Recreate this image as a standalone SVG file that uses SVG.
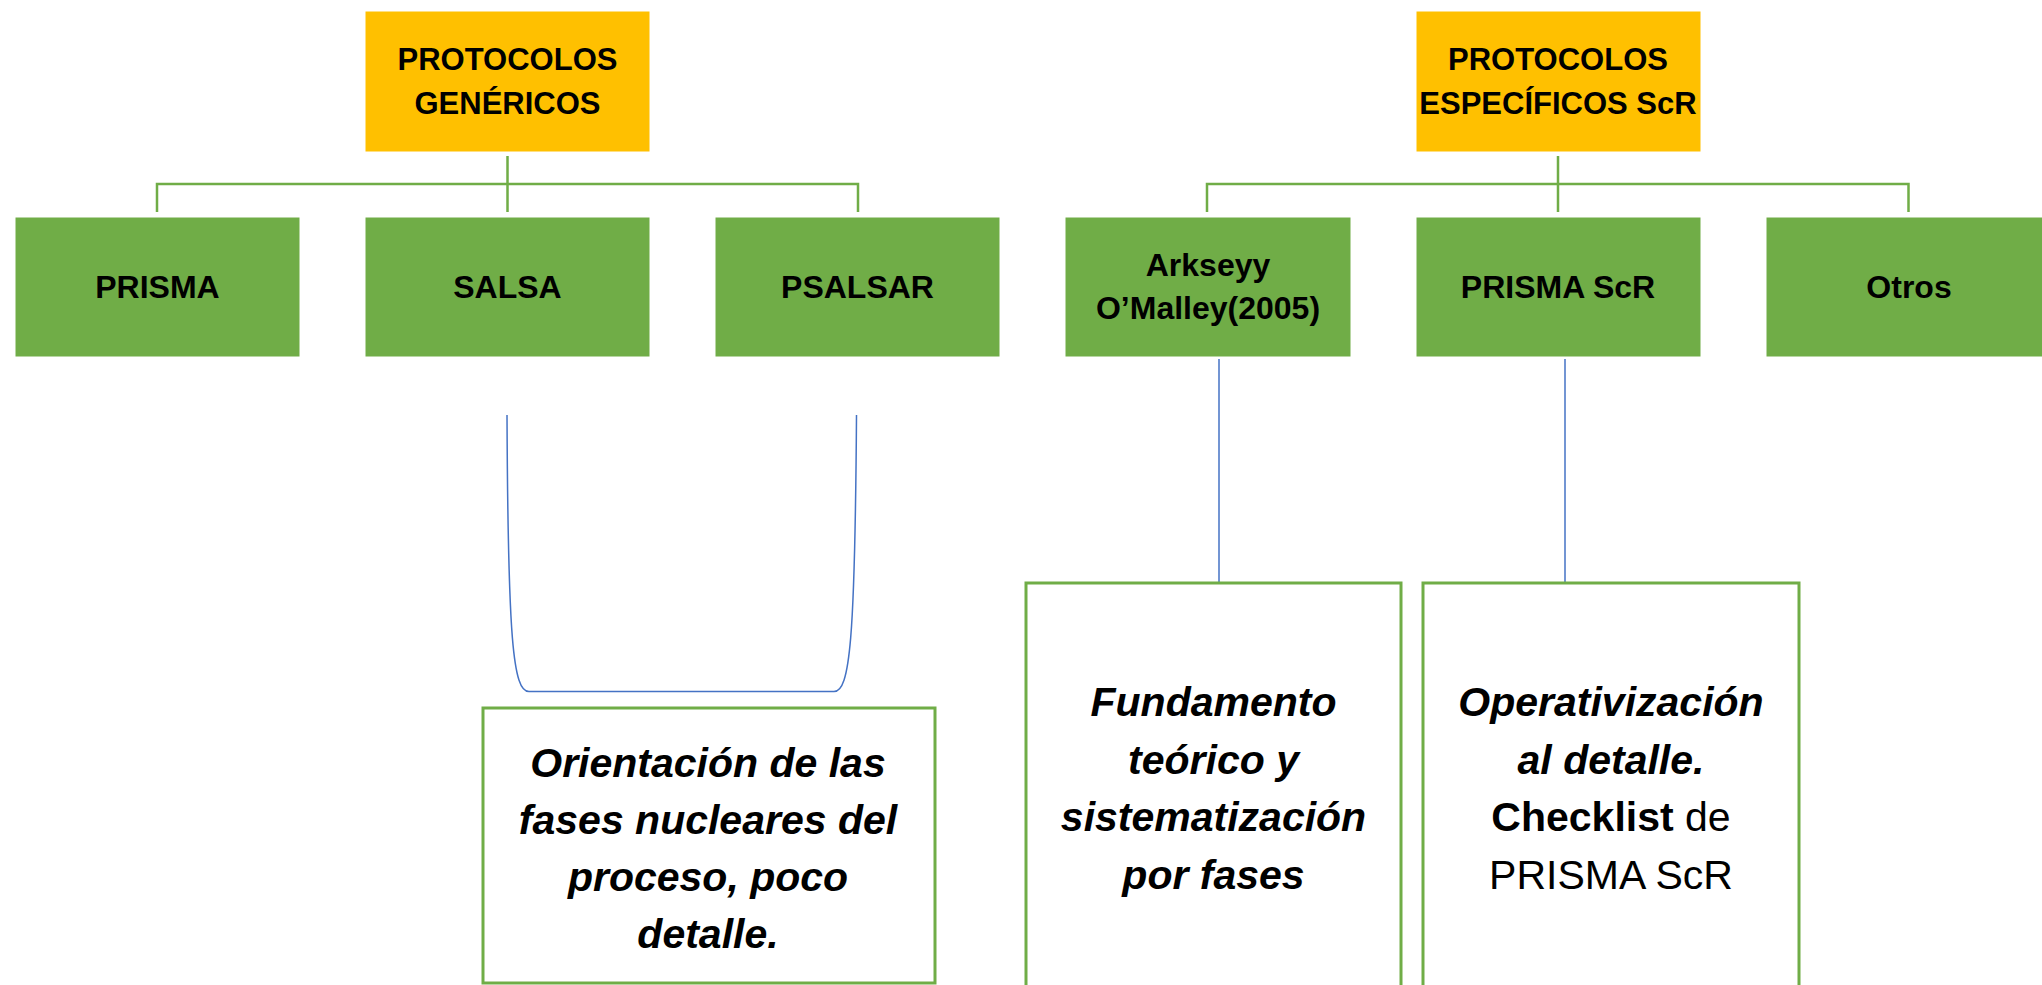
<svg xmlns="http://www.w3.org/2000/svg" width="2042" height="985" viewBox="0 0 2042 985">
<style>
.bg{fill:#FFFFFF}
.head{fill:#FFC000;stroke:#FFFFFF;stroke-width:1}
.leaf{fill:#70AD47;stroke:#FFFFFF;stroke-width:1}
.note{fill:#FFFFFF;stroke:#70AD47;stroke-width:3}
.tree{fill:none;stroke:#70AD47;stroke-width:2.5}
.link{fill:none;stroke:#4472C4;stroke-width:1.5}
.t{font-family:"Liberation Sans",Arial,sans-serif;font-weight:bold;font-size:32px;fill:#000000;text-anchor:middle}
.h{font-family:"Liberation Sans",Arial,sans-serif;font-weight:bold;font-size:31px;fill:#000000;text-anchor:middle}
.n{font-family:"Liberation Sans",Arial,sans-serif;font-weight:bold;font-style:italic;font-size:41px;fill:#000000;text-anchor:middle}
.r{font-family:"Liberation Sans",Arial,sans-serif;font-size:41px;fill:#000000;text-anchor:middle}
</style>
<rect class="bg" x="0" y="0" width="2042" height="985"/>
<g id="connectors">
<path class="tree" d="M507.5,156 V212 M157,212 V184 H858 V212"/>
<path class="tree" d="M1558,156 V212 M1207,212 V184 H1908.5 V212"/>
<path class="link" d="M507,415 C508,640 513,691.5 529,691.5 L834,691.5 C850,691.5 855,640 856.5,415"/>
<path class="link" d="M1219,359 V582"/>
<path class="link" d="M1565,359 V582"/>
</g>
<g id="node-genericos">
<rect class="head" x="365" y="11" width="285" height="141"/>
<text class="h" x="507.5" y="70">PROTOCOLOS</text>
<text class="h" x="507.5" y="114">GENÉRICOS</text>
</g>
<g id="node-especificos">
<rect class="head" x="1416" y="11" width="285" height="141"/>
<text class="h" x="1558" y="70">PROTOCOLOS</text>
<text class="h" x="1558" y="114">ESPECÍFICOS ScR</text>
</g>
<g id="node-prisma">
<rect class="leaf" x="15" y="217" width="285" height="140"/>
<text class="t" x="157.5" y="298">PRISMA</text>
</g>
<g id="node-salsa">
<rect class="leaf" x="365" y="217" width="285" height="140"/>
<text class="t" x="507.5" y="298">SALSA</text>
</g>
<g id="node-psalsar">
<rect class="leaf" x="715" y="217" width="285" height="140"/>
<text class="t" x="857.5" y="298">PSALSAR</text>
</g>
<g id="node-arksey">
<rect class="leaf" x="1065" y="217" width="286" height="140"/>
<text class="t" x="1208" y="276">Arkseyy</text>
<text class="t" x="1208" y="319">O’Malley(2005)</text>
</g>
<g id="node-prismascr">
<rect class="leaf" x="1416" y="217" width="285" height="140"/>
<text class="t" x="1558" y="298">PRISMA ScR</text>
</g>
<g id="node-otros">
<rect class="leaf" x="1766" y="217" width="286" height="140"/>
<text class="t" x="1909" y="298">Otros</text>
</g>
<g id="note-orientacion">
<rect class="note" x="483" y="708" width="452" height="275"/>
<text class="n" x="708" y="777">Orientación de las</text>
<text class="n" x="708" y="834">fases nucleares del</text>
<text class="n" x="708" y="891">proceso, poco</text>
<text class="n" x="708" y="948">detalle.</text>
</g>
<g id="note-fundamento">
<rect class="note" x="1026" y="583" width="375" height="420"/>
<text class="n" x="1213.5" y="716">Fundamento</text>
<text class="n" x="1213.5" y="774">teórico y</text>
<text class="n" x="1213.5" y="831">sistematización</text>
<text class="n" x="1213.5" y="889">por fases</text>
</g>
<g id="note-operativizacion">
<rect class="note" x="1423" y="583" width="376" height="420"/>
<text class="n" x="1611" y="716">Operativización</text>
<text class="n" x="1611" y="774">al detalle.</text>
<text class="r" x="1611" y="831"><tspan font-weight="bold">Checklist</tspan> de</text>
<text class="r" x="1611" y="889">PRISMA ScR</text>
</g>
</svg>
